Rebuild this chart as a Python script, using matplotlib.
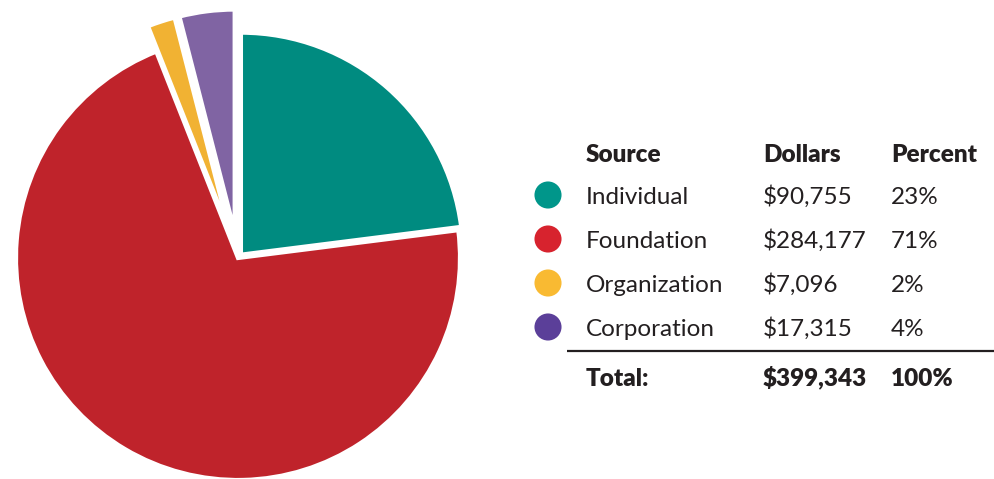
import matplotlib
matplotlib.use("Agg")
import matplotlib.pyplot as plt

# ---- data ----
sources = ["Individual", "Foundation", "Organization", "Corporation"]
dollars = [90755, 284177, 7096, 17315]
percents = [23, 71, 2, 4]
slice_colors = ["#008B80", "#BF232B", "#F1B233", "#8064A3"]
dot_colors = ["#00968A", "#D7232E", "#F9BA32", "#5B3F99"]
explode_frac = [0.02, 0.0, 0.12, 0.12]
headers = ["Source", "Dollars", "Percent"]
total_label = "Total:"

W, H = 994, 479
plt.rcParams['font.family'] = ['Lato', 'DejaVu Sans']
fig = plt.figure(figsize=(W / 100, H / 100), dpi=100)
ax = fig.add_axes([0, 0, 1, 1])

def Y(y):  # image pixel row -> data y
    return H - y

R = 222
ax.pie(percents, colors=slice_colors, explode=[e * R for e in explode_frac],
       startangle=90, counterclock=False, radius=R, center=(238, Y(258)), frame=True,
       wedgeprops=dict(edgecolor="white", linewidth=3, joinstyle="miter"))

ax.set_xlim(0, W)
ax.set_ylim(0, H)
ax.set_aspect("equal")
ax.axis("off")

txt = "#231F20"
fs = 17.5
cap = 8.5
col_x = [586, 763, 891]
bold = "heavy"

# header
for x, h in zip(col_x, headers):
    ax.text(x, Y(153 + cap), h, fontsize=fs, fontweight=bold, color=txt,
            ha="left", va="baseline")

row_y = [195, 239, 283, 327]
ax.scatter([548] * len(row_y), [Y(y) for y in row_y], s=380, c=dot_colors,
           linewidths=0, zorder=3)
for y, s, d, p in zip(row_y, sources, dollars, percents):
    ax.text(col_x[0], Y(y + cap), s, fontsize=fs, color=txt, ha="left", va="baseline")
    ax.text(col_x[1], Y(y + cap), "${:,}".format(d), fontsize=fs, color=txt,
            ha="left", va="baseline")
    ax.text(col_x[2], Y(y + cap), "{}%".format(p), fontsize=fs, color=txt,
            ha="left", va="baseline")

ax.plot([567, W], [Y(350.5), Y(350.5)], color=txt, lw=1.6, solid_capstyle="butt")

total = sum(dollars)
ty = 377
ax.text(col_x[0], Y(ty + cap), total_label, fontsize=fs, fontweight=bold, color=txt,
        ha="left", va="baseline")
ax.text(col_x[1], Y(ty + cap), "${:,}".format(total), fontsize=fs, fontweight=bold,
        color=txt, ha="left", va="baseline")
ax.text(col_x[2], Y(ty + cap), "{}%".format(sum(percents)), fontsize=fs, fontweight=bold,
        color=txt, ha="left", va="baseline")

fig.savefig("out.png", dpi=100)
